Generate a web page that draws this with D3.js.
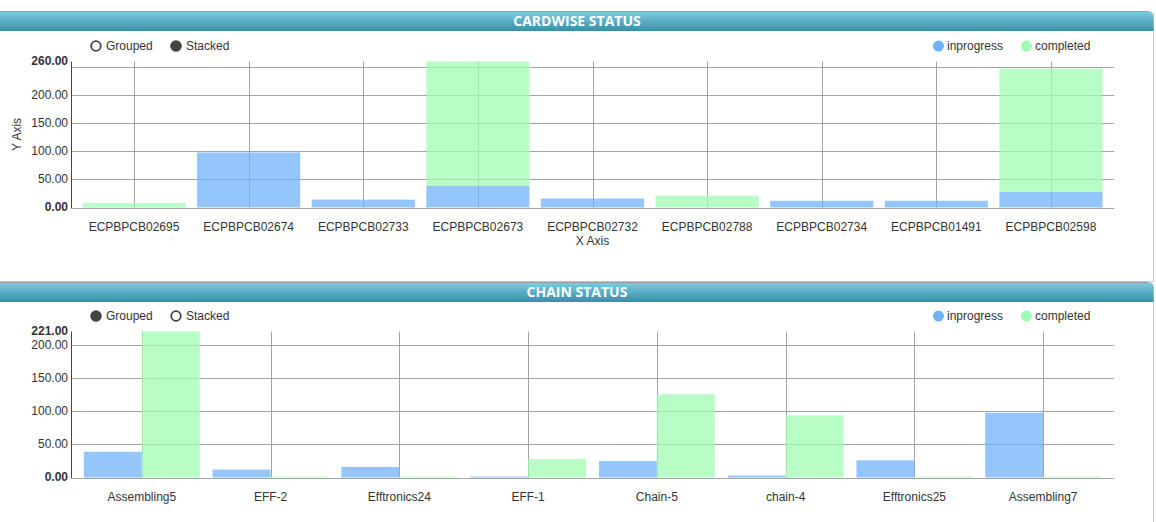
<!DOCTYPE html>
<html>
<head>
<meta charset="utf-8">
<script src="https://cdn.jsdelivr.net/npm/d3@7/dist/d3.min.js"></script>
<style>
  html, body { margin: 0; padding: 0; background: #fff; }
  svg { display: block; }
  text { font-family: Arial, "Liberation Sans", sans-serif; }
</style>
</head>
<body>
<svg id="chart" width="1156" height="522"></svg>
<script>
// ---- data ----
const seriesNames = ["inprogress", "completed"];
const seriesColors = ["#70b3fb", "#a0fbb3"];

const cardTitle = "CARDWISE STATUS";
const cardCategories = ["ECPBPCB02695", "ECPBPCB02674", "ECPBPCB02733", "ECPBPCB02673", "ECPBPCB02732",
                        "ECPBPCB02788", "ECPBPCB02734", "ECPBPCB01491", "ECPBPCB02598"];
const cardInprogress = [0, 98, 14, 39, 16, 0, 12, 12, 28];
const cardCompleted  = [8, 0, 0, 221, 0, 21, 0, 0, 219];

const chainTitle = "CHAIN STATUS";
const chainCategories = ["Assembling5", "EFF-2", "Efftronics24", "EFF-1", "Chain-5", "chain-4", "Efftronics25", "Assembling7"];
const chainInprogress = [39, 12, 16, 1, 25, 3, 26, 98];
const chainCompleted  = [221, 0, 0, 28, 126, 94, 0, 0];

const controlLabels = ["Grouped", "Stacked"];

// ---- drawing ----
const svg = d3.select("#chart");
const defs = svg.append("defs");
const grad = defs.append("linearGradient").attr("id", "hdr").attr("x1", 0).attr("y1", 0).attr("x2", 0).attr("y2", 1);
grad.append("stop").attr("offset", "0%").attr("stop-color", "#7dcbe1");
grad.append("stop").attr("offset", "100%").attr("stop-color", "#3790a8");

const fmt = d3.format(".2f");
const X0 = 71, X1 = 1114, PANEL_R = 1153;

function drawPanel(top, bottom, title) {
  const g = svg.append("g");
  g.append("path")
    .attr("d", `M-2,${top} L${PANEL_R - 5},${top} Q${PANEL_R + 0.5},${top} ${PANEL_R + 0.5},${top + 5} L${PANEL_R + 0.5},${bottom} L-2,${bottom} Z`)
    .attr("fill", "#fff").attr("stroke", "#c8c8c8").attr("stroke-width", 1);
  g.append("path")
    .attr("d", `M-2,${top} L${PANEL_R - 5},${top} Q${PANEL_R + 0.5},${top} ${PANEL_R + 0.5},${top + 5} L${PANEL_R + 0.5},${top + 19.5} L-2,${top + 19.5} Z`)
    .attr("fill", "url(#hdr)");
  g.append("line").attr("x1", -2).attr("x2", PANEL_R - 5).attr("y1", top).attr("y2", top)
    .attr("stroke", "#9a9a9a").attr("stroke-width", 1);
  g.append("text").attr("x", 577).attr("y", top + 14.5).attr("text-anchor", "middle")
    .attr("fill", "#fff").style("font-family", "'Open Sans', Arial, sans-serif")
    .style("font-weight", "bold").style("font-size", "14px").text(title);
}

function drawChart(cfg) {
  const top = cfg.top;
  const plotTop = top + 49.5, plotBottom = plotTop + 146;
  const g = svg.append("g");
  const rows = cfg.categories.map((c, i) => ({ cat: c, inprogress: cfg.inprogress[i], completed: cfg.completed[i] }));
  const maxVal = cfg.stacked
    ? d3.max(rows, d => d.inprogress + d.completed)
    : d3.max(rows, d => Math.max(d.inprogress, d.completed));

  const x = d3.scaleBand().domain(cfg.categories).range([X0, X1]).paddingInner(0.1).paddingOuter(0.1);
  const y = d3.scaleLinear().domain([0, maxVal]).range([plotBottom, plotTop]);
  const ticks = y.ticks(5);

  g.append("g").selectAll("line").data(ticks).join("line")
    .attr("x1", X0).attr("x2", X1)
    .attr("y1", d => Math.round(y(d)) + 0.5).attr("y2", d => Math.round(y(d)) + 0.5)
    .attr("stroke", "#a3a3a3").attr("stroke-width", 1);
  g.append("g").selectAll("line").data(cfg.categories).join("line")
    .attr("x1", d => Math.round(x(d) + x.bandwidth() / 2) + 0.5)
    .attr("x2", d => Math.round(x(d) + x.bandwidth() / 2) + 0.5)
    .attr("y1", plotTop).attr("y2", plotBottom)
    .attr("stroke", "#a3a3a3").attr("stroke-width", 1);

  if (cfg.stacked) {
    const stack = d3.stack().keys(seriesNames)(rows);
    stack.forEach((layer, si) => {
      g.append("g").selectAll("rect").data(layer).join("rect")
        .attr("x", d => x(d.data.cat))
        .attr("width", x.bandwidth())
        .attr("y", d => y(d[1]))
        .attr("height", d => Math.max(0, y(d[0]) - y(d[1])))
        .attr("fill", seriesColors[si]).attr("fill-opacity", 0.75);
    });
  } else {
    const x1 = d3.scaleBand().domain(seriesNames).range([0, x.bandwidth()]);
    seriesNames.forEach((s, si) => {
      g.append("g").selectAll("rect").data(rows).join("rect")
        .attr("x", d => x(d.cat) + x1(s))
        .attr("width", x1.bandwidth())
        .attr("y", d => Math.min(y(d[s]), y(0) - 1))
        .attr("height", d => Math.max(1, y(0) - y(d[s])))
        .attr("fill", seriesColors[si]).attr("fill-opacity", 0.75);
    });
  }

  g.append("line").attr("x1", X0 + 0.5).attr("x2", X0 + 0.5).attr("y1", plotTop).attr("y2", plotBottom + 0.5)
    .attr("stroke", "#444").attr("stroke-width", 1);

  const yMaxPos = y(maxVal);
  const labelTicks = ticks.filter(t => t === 0 || Math.abs(y(t) - yMaxPos) > 11);
  g.append("g").selectAll("text").data(labelTicks).join("text")
    .attr("x", X0 - 3).attr("y", d => y(d)).attr("dy", "0.33em")
    .attr("text-anchor", "end").attr("fill", "#333").style("font-size", "12px")
    .style("font-weight", d => d === 0 ? "bold" : "normal")
    .text(d => fmt(d));
  g.append("text").attr("x", X0 - 3).attr("y", yMaxPos).attr("dy", "0.33em")
    .attr("text-anchor", "end").attr("fill", "#333").style("font-size", "12px")
    .style("font-weight", "bold").text(fmt(maxVal));

  g.append("g").selectAll("text").data(cfg.categories).join("text")
    .attr("x", d => x(d) + x.bandwidth() / 2).attr("y", plotBottom + 23)
    .attr("text-anchor", "middle").attr("fill", "#333").style("font-size", "12px")
    .text(d => d);

  if (cfg.xLabel) {
    g.append("text").attr("x", (X0 + X1) / 2).attr("y", plotBottom + 37)
      .attr("text-anchor", "middle").attr("fill", "#333").style("font-size", "12px").text(cfg.xLabel);
  }
  if (cfg.yLabel) {
    g.append("text").attr("transform", `translate(21,${(plotTop + plotBottom) / 2}) rotate(-90)`)
      .attr("text-anchor", "middle").attr("fill", "#333").style("font-size", "12px").text(cfg.yLabel);
  }

  const ly = top + 34;
  const ctrlX = [96, 176];
  controlLabels.forEach((lab, i) => {
    const active = (i === 1) === cfg.stacked;
    g.append("circle").attr("cx", ctrlX[i]).attr("cy", ly).attr("r", active ? 5.5 : 4.8)
      .attr("fill", active ? "#444" : "#fff").attr("stroke", "#444").attr("stroke-width", active ? 0.5 : 1.8);
    g.append("text").attr("x", ctrlX[i] + 10).attr("y", ly).attr("dy", "0.33em")
      .attr("fill", "#333").style("font-size", "12px").text(lab);
  });

  const legX = [938.5, 1026.5];
  seriesNames.forEach((s, i) => {
    g.append("circle").attr("cx", legX[i]).attr("cy", ly).attr("r", 5.5).attr("fill", seriesColors[i]);
    g.append("text").attr("x", legX[i] + 8.5).attr("y", ly).attr("dy", "0.33em")
      .attr("fill", "#333").style("font-size", "12px").text(s);
  });
}

drawPanel(11.5, 281.5, cardTitle);
drawPanel(282.5, 530, chainTitle);

drawChart({ top: 12, categories: cardCategories, inprogress: cardInprogress, completed: cardCompleted,
            stacked: true, xLabel: "X Axis", yLabel: "Y Axis" });
drawChart({ top: 282, categories: chainCategories, inprogress: chainInprogress, completed: chainCompleted,
            stacked: false });
</script>
</body>
</html>
